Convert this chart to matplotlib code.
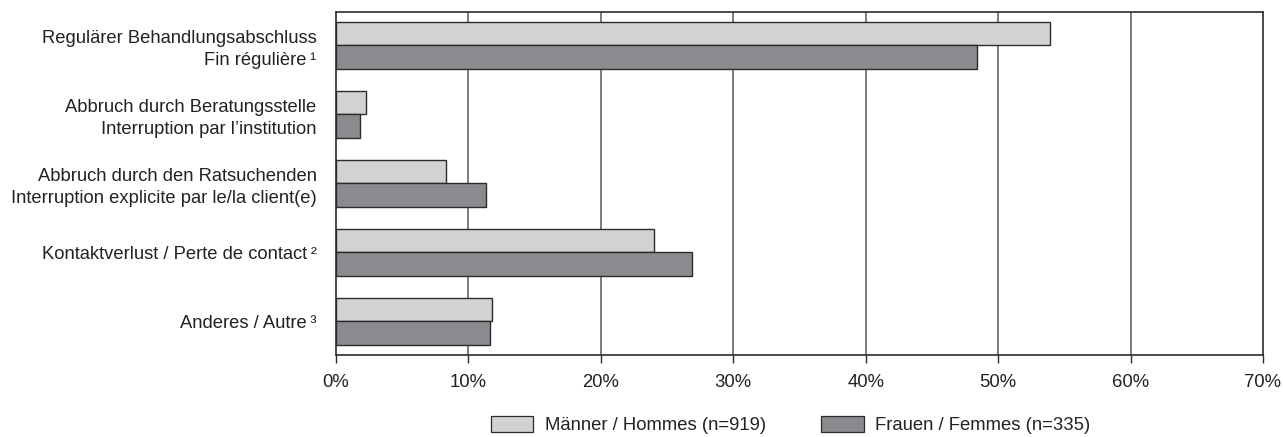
import matplotlib
matplotlib.use("Agg")
import matplotlib.pyplot as plt
from matplotlib.patches import Patch
import numpy as np

plt.rcParams['font.family'] = ['Liberation Sans', 'DejaVu Sans']

categories = [
    "Regulärer Behandlungsabschluss\nFin régulière\u2009¹",
    "Abbruch durch Beratungsstelle\nInterruption par l’institution",
    "Abbruch durch den Ratsuchenden\nInterruption explicite par le/la client(e)",
    "Kontaktverlust / Perte de contact\u2009²",
    "Anderes / Autre\u2009³",
]
men = [53.9, 2.3, 8.3, 24.0, 11.8]
women = [48.4, 1.8, 11.3, 26.9, 11.6]
series_labels = ["Männer / Hommes (n=919)", "Frauen / Femmes (n=335)"]
xticks = [0, 10, 20, 30, 40, 50, 60, 70]
xtick_labels = ["0%", "10%", "20%", "30%", "40%", "50%", "60%", "70%"]

light = "#d1d2d4"
dark = "#8a8b8e"
edge = "#2b2b2b"
text_col = "#222222"

fig = plt.figure(figsize=(12.83, 4.37), dpi=100)
ax = fig.add_axes([0.2619, 0.1876, 0.9844 - 0.2619, 0.9725 - 0.1876])

y = np.arange(len(categories))
h = 0.34
ax.barh(y - h / 2, men, height=h, color=light, edgecolor=edge, linewidth=1.0, zorder=3)
ax.barh(y + h / 2, women, height=h, color=dark, edgecolor=edge, linewidth=1.0, zorder=3)

ax.set_xlim(0, 70)
ax.set_ylim(len(categories) - 1 + 0.49, -0.48)
ax.set_xticks(xticks)
ax.set_xticklabels(xtick_labels, fontsize=13.3, color=text_col)
ax.tick_params(axis="x", length=6, width=1.0, color=edge, pad=8)
ax.set_yticks(y)
ax.set_yticklabels(categories, fontsize=13.2, color=text_col, linespacing=1.4)
ax.tick_params(axis="y", length=0, pad=14)

for xv in xticks[1:-1]:
    ax.axvline(xv, color="#666666", linewidth=1.2, zorder=1)

for s in ax.spines.values():
    s.set_color(edge)
    s.set_linewidth(1.2)

handles = [Patch(facecolor=light, edgecolor=edge, linewidth=0.9),
           Patch(facecolor=dark, edgecolor=edge, linewidth=0.9)]
fig.legend(handles, series_labels, loc="center left", bbox_to_anchor=(491 / 1283, 0.027),
           ncol=2, frameon=False, fontsize=13.3, borderpad=0, borderaxespad=0,
           handlelength=2.3, handleheight=0.9,
           handletextpad=0.6, columnspacing=3.0, labelcolor=text_col)

fig.savefig("out.png", dpi=100)
